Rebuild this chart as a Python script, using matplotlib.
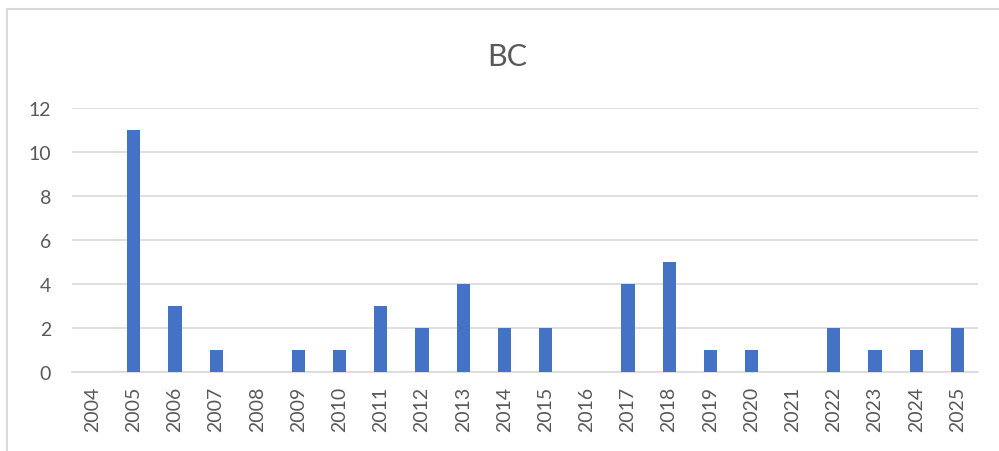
import matplotlib.pyplot as plt
from matplotlib.patches import Rectangle

years = [str(y) for y in range(2004, 2026)]
counts = [0, 11, 3, 1, 0, 1, 1, 3, 2, 4, 2, 2, 0, 4, 5, 1, 1, 0, 2, 1, 1, 2]
yticks = [0, 2, 4, 6, 8, 10, 12]

plt.rcParams['font.family'] = ['Lato', 'DejaVu Sans']

fig = plt.figure(figsize=(9.99, 4.52), dpi=100)
# chart frame (left and top edges show, the rest is cut off)
fig.patches.append(Rectangle((7 / 999, -0.05), 1.0, 1 - 10 / 452 + 0.05, transform=fig.transFigure,
                             fill=False, edgecolor='#d9d9d9', linewidth=1.5))

ax = fig.add_axes([72 / 999, 1 - 373 / 452, 906 / 999, 264 / 452])
x = range(len(years))
ax.bar(x, counts, width=0.32, color='#4472c4', zorder=3)

ax.set_xlim(-0.5, len(years) - 0.5)
ax.set_ylim(0, 12)
ax.set_yticks(yticks)
ax.set_xticks(list(x))
ax.set_xticklabels(years, rotation=90)
ax.grid(axis='y', color='#d9d9d9', linewidth=1.2, zorder=0)
for s in ['top', 'right', 'left']:
    ax.spines[s].set_visible(False)
ax.spines['bottom'].set_color('#d9d9d9')
ax.spines['bottom'].set_linewidth(1.2)
ax.tick_params(axis='both', length=0, labelsize=14, labelcolor='#595959')
ax.tick_params(axis='y', pad=15)
ax.tick_params(axis='x', pad=10)

fig.text(0.508, 1 - 57 / 452, 'BC', ha='center', va='center', fontsize=22, color='#595959')

plt.savefig('out.png', dpi=100)
